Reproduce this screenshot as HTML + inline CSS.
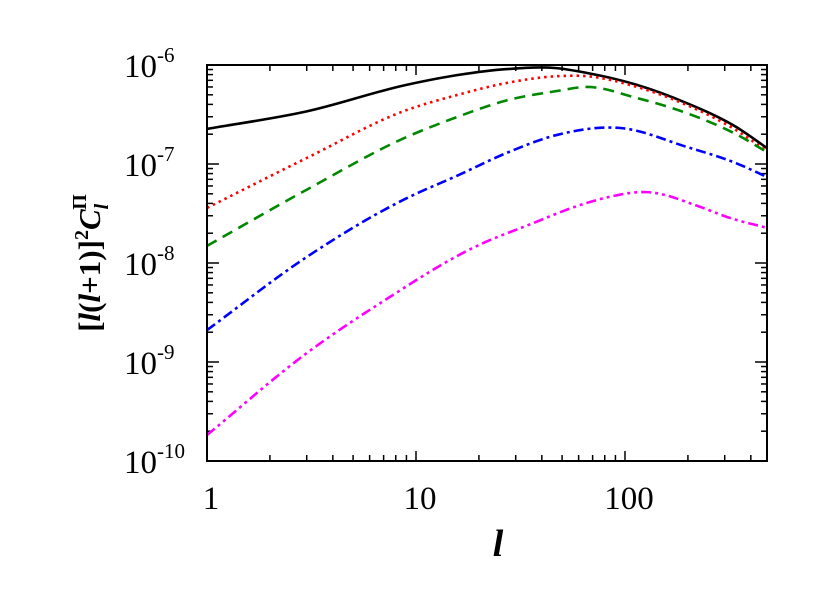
<!DOCTYPE html>
<html><head><meta charset="utf-8"><style>
body{margin:0;background:#fff}
svg text{font-family:"Liberation Serif",serif;fill:#000}
</style></head><body>
<svg width="830" height="593" viewBox="0 0 830 593">
<g id="ticks"></g>
<g id="series"></g>
<rect x="207" y="65" width="560" height="396" fill="none" stroke="#000" stroke-width="2"/>
<g id="labels"></g>
<text x="100" y="263" transform="rotate(-90 100 263)" text-anchor="middle" font-size="31" font-weight="bold">[<tspan font-style="italic">l</tspan>(<tspan font-style="italic">l</tspan>+1)]<tspan font-size="20" dy="-12">2</tspan><tspan dy="12" font-style="italic">C</tspan><tspan font-size="20" font-style="italic" dy="8">l</tspan><tspan font-size="20" dx="-6" dy="-22">Π</tspan></text>
<text x="498" y="556" text-anchor="middle" font-size="38" font-weight="bold" font-style="italic">l</text>
</svg>
<script>
const ellsMain=[1,3,9,15.7,27.3,47,66,114,197,340,478];
const blackVals=[2.26e-7,3.4e-7,6.3e-7,7.9e-7,9.1e-7,9.3e-7,8.3e-7,6.3e-7,4.13e-7,2.37e-7,1.45e-7];
const redVals=[3.6e-8,1.15e-7,3.5e-7,4.97e-7,6.6e-7,7.7e-7,7.7e-7,6.0e-7,3.95e-7,2.2e-7,1.35e-7];
const greenVals=[1.49e-8,5.5e-8,1.87e-7,2.98e-7,4.4e-7,5.45e-7,6.0e-7,4.64e-7,3.27e-7,2.0e-7,1.32e-7];
const ellsBlue=[1,3,9,15.7,27.3,47,95,197,340,478];
const blueVals=[2.1e-9,1.15e-8,4.5e-8,7.6e-8,1.3e-7,1.96e-7,2.31e-7,1.49e-7,1.02e-7,7.4e-8];
const ellsMag=[1,3,6.7,20,35,61,82,128,228,310,478];
const magVals=[1.83e-10,1.23e-9,3.9e-9,1.52e-8,2.45e-8,3.85e-8,4.6e-8,5.2e-8,3.7e-8,2.9e-8,2.26e-8];
const xTickLabels=["1","10","100"];
const yTickExps=[-6,-7,-8,-9,-10];

const X0=207,X1=767,Y0=65,Y1=461,XMAX=Math.log10(478);
const sx=v=>X0+Math.log10(v)/XMAX*(X1-X0);
const sy=v=>Y0+(-6-Math.log10(v))/4*(Y1-Y0);
const NS="http://www.w3.org/2000/svg";
function mk(tag,attrs,parent){const e=document.createElementNS(NS,tag);for(const k in attrs)e.setAttribute(k,attrs[k]);parent.appendChild(e);return e;}
const tg=document.getElementById('ticks'),lg=document.getElementById('labels'),sg=document.getElementById('series');
for(let d=0;d<3;d++)for(let m=1;m<10;m++){const v=m*Math.pow(10,d);if(v>478)break;const x=sx(v);const L=m===1?10:6;
 if(x<=X0+1)continue;
 const t=mk('line',{x1:x,x2:x,y1:Y1,y2:Y1-L,stroke:'#000','stroke-width':1.5},tg);
 
 
 const t2=mk('line',{x1:x,x2:x,y1:Y0,y2:Y0+L,stroke:'#000','stroke-width':1.5},tg);
 
 }
xTickLabels.forEach(s=>{const v=+s;const t=mk('text',{x:sx(v)+4,y:509,'text-anchor':'middle','font-size':33},lg);t.textContent=s;
 
 });
for(let e=-10;e<-6;e++)for(let m=1;m<10;m++){const v=m*Math.pow(10,e);const y=sy(v);const L=m===1?12:6;
 const t=mk('line',{x1:X0,x2:X0+L,y1:y,y2:y,stroke:'#000','stroke-width':1.5},tg);
 
 
 const t2=mk('line',{x1:X1,x2:X1-L,y1:y,y2:y,stroke:'#000','stroke-width':1.5},tg);
 
 }
yTickExps.forEach(e=>{const y=sy(Math.pow(10,e));const t=mk('text',{x:124,y:y+12,'font-size':33},lg);
 t.innerHTML='10<tspan font-size="21" dy="-15">'+e+'</tspan>';
 
 });
function curve(xs,vs,color,dash,name){
 const P=xs.map((x,i)=>[sx(x),sy(vs[i])]);const n=P.length;
 const h=[],dd=[];for(let i=0;i<n-1;i++){h.push(P[i+1][0]-P[i][0]);dd.push((P[i+1][1]-P[i][1])/h[i]);}
 const m=P.map((p,i)=>i===0?dd[0]:i===n-1?dd[n-2]:(dd[i-1]*h[i]+dd[i]*h[i-1])/(h[i-1]+h[i]));
 let d='M'+P[0][0]+','+P[0][1];
 for(let i=0;i<n-1;i++){const a=h[i]/3;
  d+=' C'+(P[i][0]+a)+','+(P[i][1]+m[i]*a)+' '+(P[i+1][0]-a)+','+(P[i+1][1]-m[i+1]*a)+' '+P[i+1][0]+','+P[i+1][1];}
 const e=mk('path',{d:d,fill:'none',stroke:color,'stroke-width':2.6},sg);if(dash)e.setAttribute('stroke-dasharray',dash);
 
 }
curve(ellsMain,blackVals,'#000',null,'series-black-solid');
curve(ellsMain,redVals,'#f00','2.5 4','series-red-dotted');
curve(ellsMain,greenVals,'#080','11 7','series-green-dashed');
curve(ellsBlue,blueVals,'#00f','10 4 3 4','series-blue-dashdot');
curve(ellsMag,magVals,'#f0f','10 4 3 4 3 4','series-magenta-dashdotdot');
</script>
</body></html>
